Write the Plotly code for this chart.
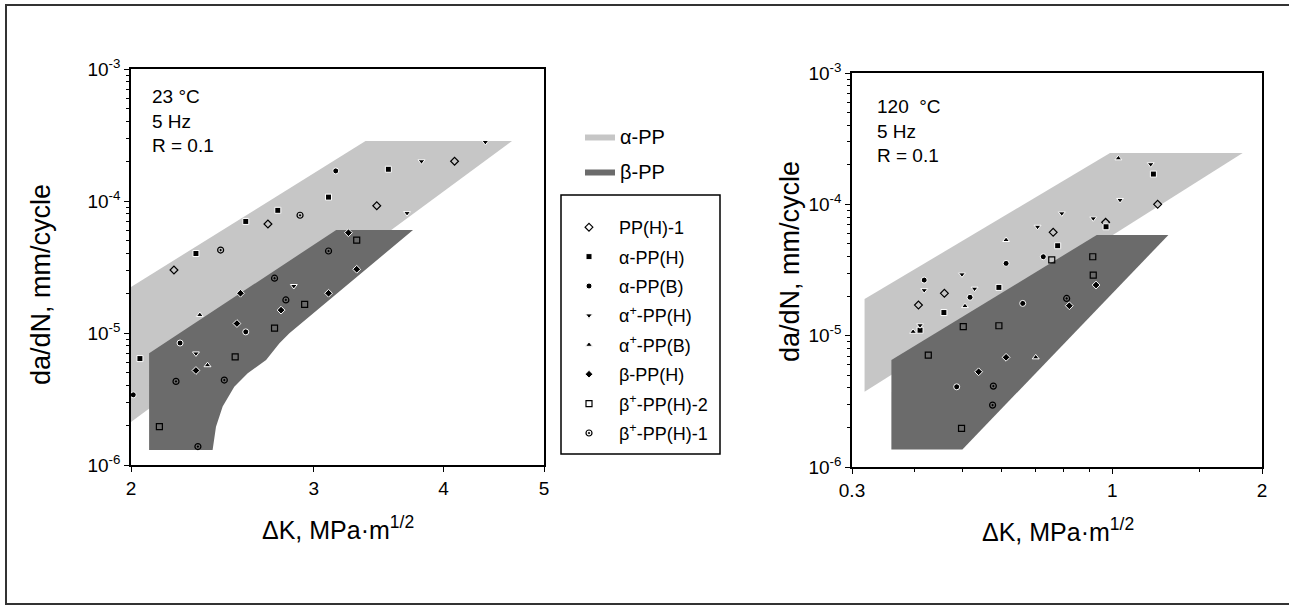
import numpy as np
import plotly.graph_objects as go

# ---------------- data ----------------
# Left panel (23 °C): shaded scatter bands (polygon outline in data units)
L_ALPHA_X = [2.0, 3.365, 4.657, 2.0]
L_ALPHA_Y = [2.23e-5, 2.85e-4, 2.85e-4, 2.12e-6]
L_BETA_X = [2.082, 3.153, 3.739, 2.842, 2.780, 2.699, 2.591, 2.515, 2.451, 2.415, 2.397, 2.082]
L_BETA_Y = [7.02e-6, 6.03e-5, 6.03e-5, 9.95e-6, 8.36e-6, 6.25e-6, 4.95e-6, 3.92e-6, 2.77e-6, 1.95e-6, 1.30e-6, 1.30e-6]

# Right panel (120 °C)
R_ALPHA_X = [0.318, 0.990, 1.829, 0.318]
R_ALPHA_Y = [1.90e-5, 2.46e-4, 2.46e-4, 3.74e-6]
R_BETA_X = [0.360, 0.931, 1.297, 0.500, 0.360]
R_BETA_Y = [6.52e-6, 5.84e-5, 5.84e-5, 1.36e-6, 1.36e-6]

SERIES = ["PP(H)-1", "α-PP(H)", "α-PP(B)", "α<sup>+</sup>-PP(H)", "α<sup>+</sup>-PP(B)",
          "β-PP(H)", "β<sup>+</sup>-PP(H)-2", "β<sup>+</sup>-PP(H)-1"]

# left panel points (ΔK MPa·m^1/2, da/dN mm/cycle)
L_PP_H1 = [(4.10, 2.0e-4), (3.45, 9.2e-5), (2.71, 6.7e-5), (2.20, 3.0e-5)]
L_A_PP_H = [(3.54, 1.74e-4), (3.10, 1.07e-4), (2.77, 8.5e-5), (2.58, 7.0e-5), (2.31, 4.0e-5), (2.04, 6.4e-6)]
L_A_PP_B = [(3.15, 1.69e-4), (2.01, 3.4e-6), (2.58, 1.02e-5), (2.23, 8.4e-6)]
L_AP_PP_H = [(4.39, 2.8e-4), (3.81, 2.0e-4), (3.69, 8.1e-5), (2.87, 2.27e-5), (2.31, 7.0e-6)]
L_AP_PP_B = [(2.33, 1.37e-5), (2.37, 5.7e-6)]
L_B_PP_H = [(3.24, 5.75e-5), (3.30, 3.04e-5), (2.79, 1.49e-5), (2.55, 2.0e-5), (2.53, 1.18e-5),
            (2.31, 5.2e-6), (3.10, 2.0e-5)]
L_BP_PP_H2 = [(2.75, 1.09e-5), (2.13, 1.95e-6), (2.94, 1.65e-5), (2.52, 6.6e-6), (3.30, 5.06e-5)]
L_BP_PP_H1 = [(2.91, 7.8e-5), (2.44, 4.25e-5), (2.82, 1.78e-5), (2.46, 4.4e-6), (2.21, 4.3e-6),
              (3.10, 4.18e-5), (2.75, 2.6e-5), (2.32, 1.38e-6)]

# right panel points
R_PP_H1 = [(1.234, 1.0e-4), (0.970, 7.29e-5), (0.761, 6.12e-5), (0.460, 2.10e-5), (0.408, 1.71e-5)]
R_A_PP_H = [(1.210, 1.70e-4), (0.972, 6.75e-5), (0.777, 4.84e-5), (0.592, 2.33e-5), (0.459, 1.50e-5),
            (0.411, 1.10e-5)]
R_A_PP_B = [(0.727, 3.99e-5), (0.612, 3.55e-5), (0.419, 2.65e-5), (0.518, 1.96e-5), (0.661, 1.76e-5),
            (0.487, 4.08e-6)]
R_AP_PP_H = [(1.195, 2.02e-4), (1.037, 1.08e-4), (0.792, 8.54e-5), (0.916, 7.82e-5), (0.708, 6.75e-5),
             (0.499, 2.93e-5), (0.529, 2.28e-5), (0.419, 2.22e-5), (0.411, 1.20e-5)]
R_AP_PP_B = [(1.029, 2.24e-4), (0.612, 5.35e-5), (0.506, 1.68e-5), (0.398, 1.07e-5), (0.702, 6.84e-6)]
R_B_PP_H = [(0.820, 1.69e-5), (0.928, 2.43e-5), (0.612, 6.84e-6), (0.539, 5.31e-6)]
R_BP_PP_H2 = [(0.756, 3.77e-5), (0.502, 1.17e-5), (0.427, 7.12e-6), (0.498, 1.97e-6), (0.592, 1.19e-5),
              (0.914, 3.99e-5), (0.916, 2.89e-5)]
R_BP_PP_H1 = [(0.810, 1.92e-5), (0.575, 2.96e-6), (0.577, 4.13e-6)]

L_XTICKS = [2, 3, 4, 5]
R_XTICKS = [0.3, 1, 2]
R_XMINOR = [0.4, 0.5, 0.6, 0.7, 0.8, 0.9, 1.5]
Y_TICKS = [1e-6, 1e-5, 1e-4, 1e-3]
Y_TICKTEXT = ["10<sup>-6</sup>", "10<sup>-5</sup>", "10<sup>-4</sup>", "10<sup>-3</sup>"]
Y_MINOR = [m * d for d in (1e-6, 1e-5, 1e-4) for m in (2, 3, 4, 5, 6, 7, 8, 9)]
L_GRID_X = [3, 4]
R_GRID_X = [1]
GRID_Y = [1e-5, 1e-4]

# ---------------- style ----------------
FONT = "Arial, Liberation Sans, sans-serif"
LIGHT = "#c6c6c6"
DARK = "#6b6b6b"
W, H = 1289, 607

SYMBOLS = ["diamond-open", "square", "circle", "triangle-down", "triangle-up",
           "diamond", "square-open", "circle-open-dot"]

L_POINTS = [L_PP_H1, L_A_PP_H, L_A_PP_B, L_AP_PP_H, L_AP_PP_B, L_B_PP_H, L_BP_PP_H2, L_BP_PP_H1]
R_POINTS = [R_PP_H1, R_A_PP_H, R_A_PP_B, R_AP_PP_H, R_AP_PP_B, R_B_PP_H, R_BP_PP_H2, R_BP_PP_H1]

fig = go.Figure()

# bands
fig.add_trace(go.Scatter(x=L_ALPHA_X, y=L_ALPHA_Y, fill="toself", fillcolor=LIGHT, mode="lines",
                         line=dict(width=0, color=LIGHT), name="α-PP", legend="legend",
                         legendgroup="alpha", xaxis="x", yaxis="y", hoverinfo="skip"))
fig.add_trace(go.Scatter(x=L_BETA_X, y=L_BETA_Y, fill="toself", fillcolor=DARK, mode="lines",
                         line=dict(width=0, color=DARK), name="β-PP", legend="legend",
                         legendgroup="beta", xaxis="x", yaxis="y", hoverinfo="skip"))
fig.add_trace(go.Scatter(x=R_ALPHA_X, y=R_ALPHA_Y, fill="toself", fillcolor=LIGHT, mode="lines",
                         line=dict(width=0, color=LIGHT), showlegend=False, legendgroup="alpha",
                         xaxis="x2", yaxis="y2", hoverinfo="skip"))
fig.add_trace(go.Scatter(x=R_BETA_X, y=R_BETA_Y, fill="toself", fillcolor=DARK, mode="lines",
                         line=dict(width=0, color=DARK), showlegend=False, legendgroup="beta",
                         xaxis="x2", yaxis="y2", hoverinfo="skip"))

def marker_for(sym):
    if sym.endswith("open") or sym.endswith("open-dot"):
        return dict(symbol=sym, size=6, color="black", line=dict(width=1.2, color="black"))
    return dict(symbol=sym, size=6, color="black", line=dict(width=1, color="white"))

for i, name in enumerate(SERIES):
    pts = L_POINTS[i]
    fig.add_trace(go.Scatter(x=[p[0] for p in pts], y=[p[1] for p in pts], mode="markers",
                             marker=marker_for(SYMBOLS[i]), name=name, legend="legend2",
                             legendgroup=f"g{i}", xaxis="x", yaxis="y"))
    pts = R_POINTS[i]
    fig.add_trace(go.Scatter(x=[p[0] for p in pts], y=[p[1] for p in pts], mode="markers",
                             marker=marker_for(SYMBOLS[i]), name=name, legend="legend2",
                             legendgroup=f"g{i}", showlegend=False, xaxis="x2", yaxis="y2"))

def px(v):
    return v / W

def py(v):
    return 1 - v / H

axis_common = dict(type="log", showline=True, mirror=True, linecolor="black", linewidth=1.5,
                   showgrid=False, zeroline=False, ticks="outside", ticklen=5, tickcolor="black",
                   automargin=False,
                   tickfont=dict(family=FONT, size=19, color="black"))
yminor = dict(tickmode="array", tickvals=Y_MINOR, ticks="outside", ticklen=3, tickcolor="black",
              showgrid=False)

fig.update_layout(
    width=W, height=H, autosize=False,
    margin=dict(l=0, r=0, t=0, b=0, pad=0, autoexpand=False),
    paper_bgcolor="white", plot_bgcolor="white",
    font=dict(family=FONT, color="black"),
    xaxis=dict(axis_common, domain=[px(131), px(544)], range=[np.log10(2), np.log10(5)],
               tickmode="array", tickvals=L_XTICKS, ticktext=[str(v) for v in L_XTICKS],
               anchor="y"),
    yaxis=dict(axis_common, domain=[py(465), py(69)], range=[-6, -3], tickmode="array",
               tickvals=Y_TICKS, ticktext=Y_TICKTEXT, anchor="x", minor=yminor),
    xaxis2=dict(axis_common, domain=[px(852), px(1262)], range=[np.log10(0.3), np.log10(2)],
                tickmode="array", tickvals=R_XTICKS, ticktext=[str(v) for v in R_XTICKS],
                anchor="y2",
                minor=dict(tickmode="array", tickvals=R_XMINOR, ticks="outside", ticklen=3,
                           tickcolor="black", showgrid=False)),
    yaxis2=dict(axis_common, domain=[py(467), py(73)], range=[-6, -3], tickmode="array",
                tickvals=Y_TICKS, ticktext=Y_TICKTEXT, anchor="x2", minor=yminor),
    legend=dict(x=px(580), y=py(117), xanchor="left", yanchor="top", bgcolor="rgba(0,0,0,0)",
                font=dict(family=FONT, size=20, color="black"), itemwidth=30,
                tracegroupgap=6),
    legend2=dict(x=px(559), y=py(209), xanchor="left", yanchor="top", bgcolor="rgba(0,0,0,0)",
                 font=dict(family=FONT, size=18, color="black"), itemwidth=50,
                 tracegroupgap=3, borderwidth=0),
    showlegend=True,
)

shapes = []
# grid lines drawn above the bands
for gx in L_GRID_X:
    shapes.append(dict(type="line", xref="x", yref="y domain", x0=np.log10(gx), x1=np.log10(gx),
                       y0=0, y1=1, line=dict(color="black", width=1), layer="above"))
for gy in GRID_Y:
    shapes.append(dict(type="line", xref="x domain", yref="y", x0=0, x1=1, y0=np.log10(gy),
                       y1=np.log10(gy), line=dict(color="black", width=1), layer="above"))
for gx in R_GRID_X:
    shapes.append(dict(type="line", xref="x2", yref="y2 domain", x0=np.log10(gx), x1=np.log10(gx),
                       y0=0, y1=1, line=dict(color="black", width=1), layer="above"))
for gy in GRID_Y:
    shapes.append(dict(type="line", xref="x2 domain", yref="y2", x0=0, x1=1, y0=np.log10(gy),
                       y1=np.log10(gy), line=dict(color="black", width=1), layer="above"))
# legend box
shapes.append(dict(type="rect", xref="paper", yref="paper", x0=px(561), x1=px(720),
                   y0=py(454), y1=py(195), line=dict(color="black", width=1.5)))
# outer frame
shapes.append(dict(type="rect", xref="paper", yref="paper", x0=px(6), x1=px(1293),
                   y0=py(604), y1=py(5), line=dict(color="#333333", width=2)))
fig.update_layout(shapes=shapes)

def note(x, y, text, size, angle=0, xa="center", ya="middle", align="center"):
    return dict(xref="paper", yref="paper", x=px(x), y=py(y), xanchor=xa, yanchor=ya,
                text=text, showarrow=False, align=align, textangle=angle,
                font=dict(family=FONT, size=size, color="black"))

ann = [
    note(150, 84, "23 °C<br>5 Hz<br>R = 0.1", 19, xa="left", ya="top", align="left"),
    note(875, 94, "120  °C<br>5 Hz<br>R = 0.1", 19, xa="left", ya="top", align="left"),
    note(41, 285, "da/dN, mm/cycle", 27, angle=-90),
    note(790, 262, "da/dN, mm/cycle", 27, angle=-90),
    note(338, 528, "ΔK, MPa·m<sup>1/2</sup>", 25),
    note(1058, 530, "ΔK, MPa·m<sup>1/2</sup>", 25),
]
fig.update_layout(annotations=ann)

fig.write_html("out.html", config={"displayModeBar": False, "responsive": False},
               default_width="1289px", default_height="607px",
               post_script="document.body.style.margin='0';document.body.style.overflow='hidden';")
